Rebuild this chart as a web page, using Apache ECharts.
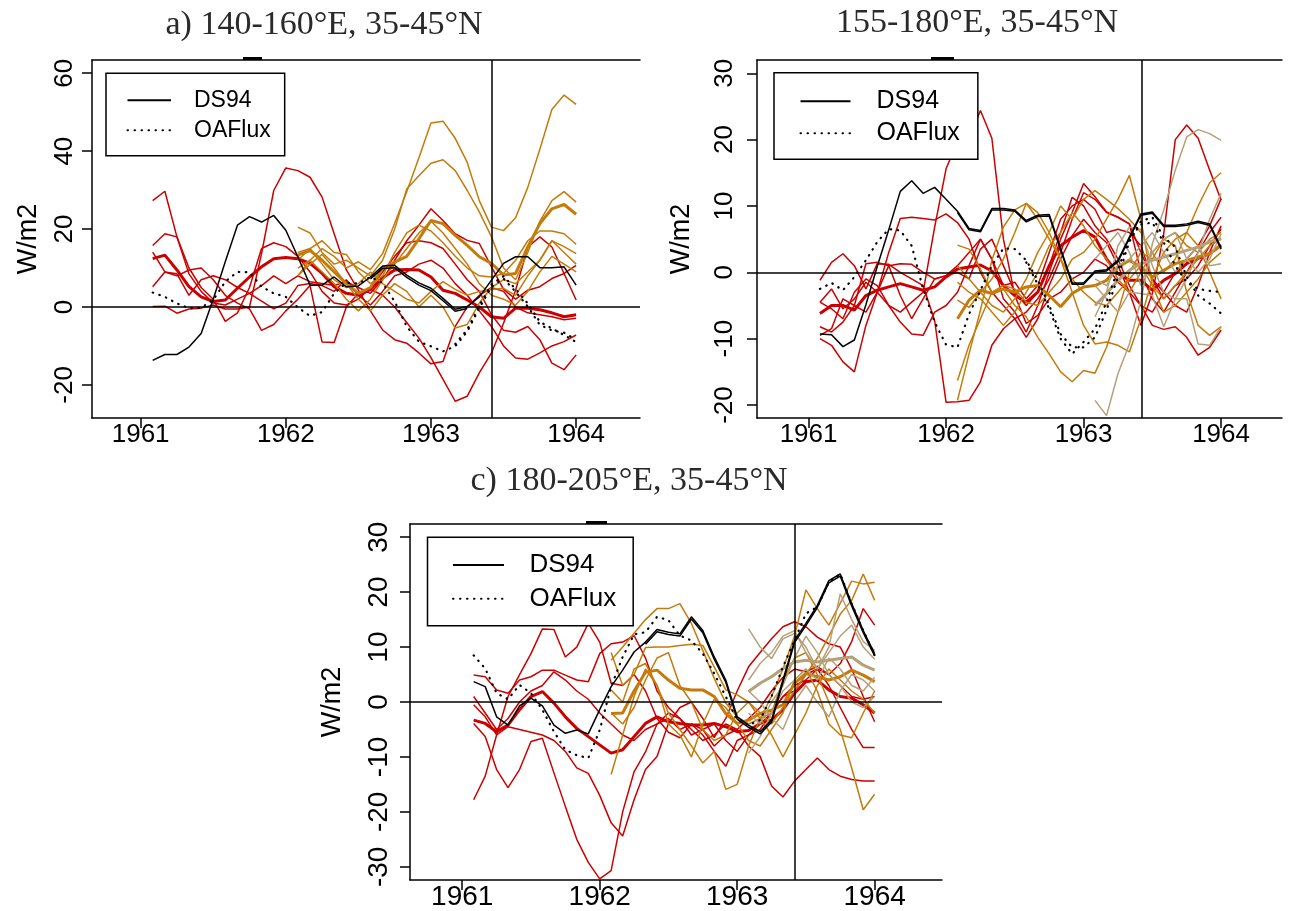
<!DOCTYPE html>
<html><head><meta charset="utf-8">
<script src="https://cdn.jsdelivr.net/npm/echarts@6/dist/echarts.min.js"></script>
<style>html,body{margin:0;padding:0;background:#fff}#c{width:1289px;height:911px}</style>
</head><body><div id="c"></div>
<script>
// monthly time points (decimal years)
const months = [1961.083,1961.167,1961.25,1961.333,1961.417,1961.5,1961.583,1961.667,1961.75,1961.833,1961.917,1962.0,
1962.083,1962.167,1962.25,1962.333,1962.417,1962.5,1962.583,1962.667,1962.75,1962.833,1962.917,1963.0,
1963.083,1963.167,1963.25,1963.333,1963.417,1963.5,1963.583,1963.667,1963.75,1963.833,1963.917,1964.0];
const xTicks = [1961,1962,1963,1964];
const aTicks = [-20,0,20,40,60];
const bTicks = [-20,-10,0,10,20,30];
const cTicks = [-30,-20,-10,0,10,20,30];
const titles = ['a) 140-160°E, 35-45°N','155-180°E, 35-45°N','c) 180-205°E, 35-45°N'];
const legendNames = ['DS94','OAFlux'];
const splitMonth = 1963.417;

// ---------- panel a ----------
const aDS94 = [-13.7,-12.2,-12.2,-10.3,-6.8,2.0,11.6,21.0,23.2,21.8,23.5,19.7,12.9,5.6,5.6,7.7,5.2,5.4,7.7,10.5,10.7,8.2,6.2,4.8,2.2,-0.6,0.1,2.6,6.9,11.2,12.9,12.9,10.1,10.1,10.3,5.6];
const aDS94b = [7.2,9.9,10.1,7.6,5.6,4.2,1.6,-1.1,-0.4];
const aOAF = [3.7,2.6,0.9,-0.3,-0.2,1.8,6.5,9.0,8.9,5.2,3.5,2.6,-0.1,-2.3,-1.3,3.5,6.2,6.0,7.7,6.2,1.4,-5.0,-8.9,-10.1,-11.4,-10.1,-6.3,-0.3,5.2,7.3,3.9,0.1,-4.6,-6.0,-6.6,-8.4];
const aOAF2 = [-9.5,-5.8,0.4,5.8,7.9,4.6,0.9,-3.8,-5.5,-7.2,-9.0];
const aRedThick = [12.4,13.3,9.5,5.2,2.6,1.4,1.8,4.8,7.7,10.3,12.4,12.7,12.4,11.2,8.6,5.2,3.5,3.0,4.5,7.5,9.5,9.6,9.5,7.7,4.3,3.5,1.8,0.0,-2.5,-2.9,-0.3,-0.3,-0.7,-1.5,-2.5,-2.0];
const aRed1 = [27.3,29.7,18.0,8.5,4.0,1.0,0.5,2.0,3.5,5.5,8.0,6.0,8.0,6.5,6.0,5.5,6.5,5.0,3.5,7.0,12.0,17.0,21.0,25.2,22.2,18.8,17.1,16.3,10.3,4.5,2.0,4.3,5.2,7.3,8.6,10.7];
const aRed2 = [15.8,18.8,18.0,10.0,5.0,2.0,-3.7,-1.5,5.0,15.0,16.5,15.5,13.0,9.0,4.0,1.0,0.5,2.0,5.0,9.0,13.0,16.5,17.0,16.5,15.0,11.0,7.0,4.0,-2.0,-6.0,-6.5,-5.0,-8.4,-14.4,-16.1,-12.3];
const aRed3 = [14.1,9.0,8.5,3.0,7.0,8.0,7.0,5.0,3.5,1.5,-0.5,1.0,5.5,6.0,5.5,4.0,7.0,3.0,0.5,4.0,8.0,9.0,11.0,12.0,10.0,6.0,3.0,-1.0,-5.0,-10.0,-13.1,-13.4,-11.8,-10.0,-8.9,-7.2];
const aRed4 = [5.2,9.0,8.0,9.5,10.0,7.0,3.0,1.0,-0.5,-6.0,-4.5,-1.0,2.0,5.5,-9.0,-9.1,0.0,3.5,4.5,3.0,0.0,-4.0,-8.0,-13.0,-18.6,-24.2,-22.9,-16.9,-11.8,-4.2,4.3,15.4,18.0,15.4,8.6,1.8];
const aRed5 = [0.1,0.2,-1.6,-0.5,-0.3,0.5,-0.5,-0.5,0.0,13.7,29.9,35.7,35.0,33.3,28.2,18.8,9.5,4.3,-1.0,-5.9,-8.4,-9.3,-11.8,-14.6,-14.0,-5.0,0.0,3.0,5.0,4.0,0.0,-1.5,-2.0,-2.5,-3.3,-2.9];
const aOrgThick = [13.3,14.5,12.0,9.0,6.0,3.5,5.0,9.9,11.5,13.0,17.5,22.2,21.4,18.4,15.8,12.9,11.2,8.2,8.6,15.4,21.4,25.2,26.3,23.8];
const aOrg1 = [8.0,12.0,15.0,13.0,10.0,11.6,9.6,13.7,21.5,29.6,38.3,47.2,47.7,43.3,37.1,27.3,20.5,19.6,22.9,30.7,40.5,50.7,54.4,52.0];
const aOrg2 = [20.5,19.0,14.0,11.0,12.0,10.0,8.0,12.0,20.0,30.3,33.7,36.9,37.8,35.0,29.9,24.4,18.0,10.0,7.0,14.0,22.0,27.3,29.6,26.9];
const aOrg3 = [8.0,11.0,13.5,10.0,6.0,2.0,-1.0,3.0,6.0,4.0,0.0,3.0,0.0,-5.4,-4.5,1.0,5.0,7.0,6.0,9.0,12.0,17.0,14.0,11.0];
const aOrg4 = [14.0,15.0,11.0,7.0,5.0,6.0,9.0,6.0,4.0,2.0,1.0,4.0,6.5,4.5,3.0,4.0,4.5,4.8,3.0,8.0,12.0,17.0,15.5,13.7];
const aOrg5 = [12.0,15.0,17.0,14.0,13.5,9.0,6.0,8.0,14.0,19.0,21.0,19.5,16.5,13.0,10.0,8.0,7.7,8.6,12.0,17.0,19.5,19.5,18.8,16.1];
const aOrg6 = [10.0,12.0,9.0,6.0,2.0,-1.0,2.0,7.0,11.0,15.0,19.0,22.0,19.0,15.0,11.0,6.0,3.0,2.0,0.5,4.0,9.0,13.0,11.0,9.0];

// ---------- panel b ----------
const bDS94 = [-9.3,-9.4,-11.2,-10.2,-4.9,0.9,6.4,12.2,13.8,11.9,12.8,11.0,9.2,6.6,6.3,9.6,9.6,9.4,7.8,8.6,8.7,3.6,-1.6,-1.6,0.2,0.4,1.8,5.3,8.8,9.1,7.1,7.1,7.3,7.7,7.3,3.7];
const bDS94b = [9.0,6.4,6.1,9.4,9.4,9.2,7.6,8.4,8.5,3.4,-1.8,-1.8,0.0,0.2,1.6,5.1,8.6,8.9,6.9,6.9,7.1,7.5,7.1,3.5];
const bOAF = [-2.5,-1.6,-2.7,-0.7,1.8,4.6,6.5,6.3,4.0,-2.5,-7.5,-10.9,-11.3,-6.3,-2.7,1.0,3.6,3.5,1.8,-1.2,-5.0,-9.3,-11.3,-11.3,-9.8,-5.7,-0.7,4.6,7.7,8.3,5.3,3.8,-0.7,-3.5,-4.7,-6.2];
const bOAF2 = [1.5,-1.8,-5.5,-10.0,-12.3,-10.5,-8.5,-4.5,0.5,5.0,7.2,7.5,4.5,1.0,-1.5,-2.5,-2.8,-3.0];
const bRedThick = [-6.2,-5.0,-5.0,-5.7,-3.5,-2.7,-2.2,-1.7,-2.2,-2.7,-2.2,-0.7,0.5,0.8,1.1,0.2,-2.0,-3.5,-4.5,-3.0,1.0,4.0,5.3,6.3,5.3,2.0,-0.2,-1.2,-1.2,-2.7,-1.2,-0.2,1.3,2.1,2.8,4.1];
const bRed1 = [-4.5,-2.5,-5.5,-4.0,-1.5,-3.0,-5.0,-6.0,-4.5,-3.0,6.8,15.6,19.7,20.2,24.4,20.2,5.0,-3.5,-7.7,-6.5,-4.0,-3.0,-1.0,0.0,2.0,1.0,-1.5,-3.0,-8.0,-3.2,5.8,20.0,22.2,20.2,15.4,10.9];
const bRed2 = [-1.2,1.5,2.8,1.0,-2.5,1.3,1.2,0.0,-1.0,-2.0,-7.3,-19.6,-19.5,-19.3,-16.5,-11.0,-8.5,-7.0,-6.0,-4.0,-1.0,3.0,8.0,12.0,11.0,9.0,8.3,7.3,3.0,-1.0,-3.0,-5.0,-6.0,-2.0,3.0,7.0];
const bRed3 = [-9.5,-8.5,-4.0,-5.0,-6.0,-3.0,3.0,8.1,8.3,8.1,7.9,8.8,7.5,5.0,0.0,-3.0,-5.0,-7.0,-9.8,-7.0,-2.0,2.0,5.5,8.0,6.0,4.5,1.0,-3.0,-5.0,-8.0,-8.6,-8.2,-9.8,-12.5,-11.3,-8.7];
const bRed4 = [-10.0,-11.0,-13.5,-15.0,-8.0,-3.0,1.0,1.3,1.2,0.0,-1.0,-0.5,0.0,-1.0,3.5,5.0,1.0,-3.0,-5.0,-3.0,1.0,6.0,11.3,10.0,7.0,5.0,2.0,-2.0,-5.0,-6.0,-3.0,0.0,2.0,4.0,7.0,11.1];
const bRed5 = [-4.5,-5.5,-7.0,-3.0,-1.0,-2.0,-5.0,-7.5,-9.3,-9.5,-6.0,-5.0,-3.0,1.0,5.0,2.0,-4.0,-6.0,-9.0,-5.0,0.0,5.0,9.0,13.4,11.4,9.1,8.3,7.3,0.0,-4.0,-6.0,-3.0,0.0,3.0,6.0,8.3];
const bRed6 = [-8.2,-9.0,-7.5,-5.0,1.3,1.5,1.0,-3.5,-7.0,-4.0,-1.0,-0.5,1.0,3.0,5.0,2.0,-2.0,-1.5,-4.0,-2.0,3.0,8.0,10.0,11.0,9.5,6.0,6.5,6.0,4.0,-1.0,-4.0,-2.0,-1.0,1.0,4.0,6.5];
const bOrgThick = [-7.0,-4.2,-2.7,-3.2,-2.5,-3.0,-2.2,-2.0,-3.5,-5.2,-3.2,-2.2,-2.0,-1.2,0.8,1.8,0.8,-0.7,0.3,1.3,1.8,2.3,2.8,4.1];
const bOrg1 = [-19.3,-12.3,-5.7,1.8,6.8,9.4,10.4,8.0,5.0,2.0,-1.0,-3.0,-4.5,-5.0,-3.0,-1.0,1.0,-2.0,-6.0,-5.0,-3.0,-1.0,1.5,3.0];
const bOrg2 = [-16.3,-11.0,-7.0,-3.0,-2.0,-2.5,-4.5,-5.0,-3.0,-1.0,2.0,3.0,5.0,8.0,11.0,14.6,8.0,-2.0,-4.0,-2.0,0.0,2.0,4.0,5.0];
const bOrg3 = [4.1,3.5,0.5,-3.0,-2.5,-5.0,-6.7,-9.8,-12.3,-15.0,-16.5,-14.8,-15.2,-11.3,-6.0,0.0,3.0,2.0,5.0,6.0,4.0,3.0,5.0,6.0];
const bOrg4 = [-4.2,-5.3,-3.0,-1.0,2.0,6.0,10.4,9.0,6.0,2.0,-3.0,-8.0,-10.8,-10.5,-11.0,-12.0,-7.0,-1.0,3.0,5.0,6.0,4.0,0.0,-4.0];
const bOrg5 = [1.0,-1.0,-3.0,-5.0,-6.0,-4.0,-1.0,3.0,6.0,10.0,8.0,11.0,12.3,11.0,9.6,8.0,6.0,3.0,0.0,2.0,6.0,10.0,13.5,15.0];
const bOrg6 = [-1.5,-3.0,-4.0,-6.0,-8.0,-6.0,-3.0,0.0,4.0,6.0,9.0,7.0,4.0,2.0,-1.0,-3.0,0.0,3.0,5.0,4.0,-3.0,-8.0,-9.5,-8.2];
const bTanThick = [-5.0,-3.2,-1.2,0.3,1.3,1.8,2.3,2.8,3.3,3.8,4.6,5.1];
const bTan1 = [-19.3,-21.6,-15.3,-10.8,-4.2,4.3,9.4,15.4,20.4,21.5,20.9,19.9];
const bTan2 = [-6.7,-3.0,4.0,6.8,6.5,1.0,-3.0,-4.0,-1.0,3.0,8.0,11.9];
const bTan3 = [-2.0,-4.0,-6.0,-3.0,-3.2,-3.5,-8.2,-4.0,-4.0,-10.8,-11.0,-8.2];
const bTan4 = [2.0,4.0,6.0,3.0,-2.0,3.0,5.0,6.0,2.0,0.0,2.0,5.8];
const bTan5 = [-1.0,-2.0,1.0,2.0,4.0,6.0,3.0,0.0,2.0,4.0,1.0,1.3];

// ---------- panel c ----------
const cDS94 = [3.7,2.8,-2.7,-4.2,-0.7,0.7,-0.7,-4.2,-5.7,-5.1,-5.8,-1.4,2.8,5.8,9.1,10.9,13.2,12.7,12.4,15.5,13.0,8.2,4.0,-2.7,-4.2,-5.4,-3.3,4.0,11.2,14.3,17.6,22.1,23.3,17.9,13.0,8.8];
const cDS94b = [10.5,12.8,12.3,12.0,15.1,12.6,7.8,3.6,-3.1,-4.6,-5.8,-3.7,3.6,10.8,13.9,17.2,21.7,22.9,17.5,12.6,8.4];
const cOAF = [8.5,6.1,1.6,0.5,3.1,1.6,-1.4,-5.4,-8.7,-9.7,-10.2,-5.1,2.8,8.2,12.3,12.7,15.5,14.9,12.1,11.2,8.8,5.2,1.0,-3.3,-4.2,-3.3,1.0,6.4,11.2,16.1,17.3,21.8,23.3,17.9,13.0,8.5];
const cRedThick = [-3.3,-3.9,-5.4,-4.2,-1.4,1.0,1.9,-0.2,-2.7,-4.8,-6.3,-7.8,-9.3,-8.7,-6.3,-3.9,-2.7,-3.6,-3.9,-4.2,-4.2,-3.9,-4.5,-5.4,-5.2,-3.9,-3.3,-1.4,1.6,3.7,4.0,2.2,1.0,0.7,-0.5,-2.0];
const cRedA = [4.9,4.6,2.2,1.6,4.0,4.6,5.8,5.8,4.9,4.0,3.7,8.8,10.6,10.9,12.1,8.0,2.0,-1.0,-3.0,-6.0,-5.0,-4.0,-7.0,-9.0,-6.0,-5.0,-2.0,1.0,2.0,5.0,6.0,3.0,-1.0,-5.0,-8.3,-8.3];
const cRedB = [-17.8,-13.5,-6.0,1.0,5.0,8.8,13.3,13.2,8.2,10.0,14.3,10.9,3.4,3.0,5.0,2.0,-3.0,-5.5,-6.5,-4.0,-5.0,-8.0,-6.0,-5.0,-3.0,-1.0,2.0,4.5,6.0,5.5,6.5,5.0,7.0,11.0,17.0,14.0];
const cRedC1 = [-3.9,-6.3,-12.3,-15.6,-12.3,-7.2,-6.6,-12.9,-19.0,-25.0,-29.2,-32.2,-30.7,-20.0,-12.7,-9.1,-4.0,-2.0,-3.0,-5.0,-7.0,-6.0,-4.0,-5.0,-8.0,-9.9,-15.3,-17.3,-14.4,-12.3,-10.2,-12.3,-13.5,-14.1,-14.4,-14.4];
const cRedC2 = [-0.5,-2.7,-6.0,-4.5,-5.0,-5.5,-6.0,-7.0,-9.0,-12.0,-13.0,-17.0,-22.0,-24.4,-17.8,-12.3,-9.9,-3.9,-1.0,0.0,-3.0,-6.5,-3.0,2.0,6.4,9.0,11.5,13.7,14.6,13.7,11.8,10.6,10.0,6.0,1.0,-3.6];
const cRedD = [1.0,-2.0,-5.0,-3.0,0.0,2.0,3.0,5.5,4.0,2.0,0.5,-2.0,-4.0,-6.0,-7.0,-5.0,-4.0,-3.0,-5.0,-4.0,-6.0,-9.0,-11.7,-7.0,-6.0,-4.0,-2.0,1.0,3.0,4.0,6.0,5.0,3.0,1.0,0.5,1.0];
const cOrgThick = [-2.1,-2.0,2.0,5.4,5.8,4.0,2.5,2.2,2.2,1.0,-2.1,-3.9,-3.3,-2.1,-1.5,-0.5,3.4,5.2,4.6,4.0,4.6,5.8,4.9,3.7];
const cOrg1 = [7.6,10.0,12.5,15.0,17.0,17.0,17.9,14.3,9.4,4.3,-0.2,-2.7,-4.0,-3.0,1.0,6.0,12.0,20.4,17.0,14.0,18.0,22.0,21.5,21.8];
const cOrg2 = [9.0,3.0,5.0,9.9,10.0,10.0,10.3,10.5,10.3,6.4,2.2,1.3,0.0,-2.0,-4.0,-1.0,2.0,5.0,8.0,12.0,16.0,18.5,23.3,18.5];
const cOrg3 = [-13.2,-6.0,1.0,6.0,3.0,-2.0,-5.0,-8.0,-11.1,-9.0,-15.9,-15.0,-8.0,-3.0,-2.0,4.0,8.0,9.0,5.0,0.0,-5.0,-12.0,-19.6,-16.8];
const cOrg4 = [2.2,0.0,6.0,7.0,3.0,-4.0,-6.0,-10.0,-4.0,0.5,-1.0,-4.0,-7.0,-8.0,-5.0,-2.0,4.0,6.0,2.0,-4.0,-6.0,-6.5,-2.0,2.0];
const cOrg5 = [-2.0,-4.0,-1.0,4.0,8.0,9.0,3.0,0.0,-5.0,-7.0,-6.0,-2.0,0.0,-3.0,-6.0,-10.0,-6.0,-2.0,3.0,6.0,4.0,2.0,0.5,-2.0];
const cTanThick = [1.9,3.4,4.6,6.1,7.3,7.6,7.3,7.6,7.9,8.2,6.7,5.8];
const cTan1 = [13.3,10.0,7.9,11.5,12.5,10.0,6.0,9.0,12.0,14.0,10.0,7.8];
const cTan2 = [4.0,7.0,9.0,12.0,13.0,9.0,6.0,10.0,19.7,15.0,11.0,9.4];
const cTan3 = [-9.3,-6.3,-2.0,2.0,4.0,6.0,4.0,8.0,6.0,3.0,2.0,4.5];
const cTan4 = [2.0,0.0,-3.0,-5.0,0.0,3.0,0.0,-2.7,2.0,5.0,4.0,2.0];
const cTan5 = [-2.0,-4.0,0.0,3.0,8.0,12.0,9.0,5.0,3.0,0.0,-1.0,1.0];

// ---------- styling / layout ----------
const RED = '#CC0000', ORG = '#C47B0B', TAN = '#B5A07A';
const SANS = 'Liberation Sans', SERIF = 'Liberation Serif';

const panels = [
  { grid:{left:92, top:60, width:548, height:358}, xr:[1960.665,1964.44], yr:[-28.5,63.4], yt:aTicks,
    fs:26, ylm:14, xlm:4, ng:50, title:{x:324, y:8}, legend:{left:106, top:73.3, pad:[15.4,14,14,20.5], iw:43.5, tp:18, fs:23, gap:7},
    mark:{x:243, y:57, w:19},
    ds:[[aDS94,0],[aDS94b,18]], oaf:[[aOAF,0],[aOAF2,25]], redT:aRedThick, reds:[aRed1,aRed2,aRed3,aRed4,aRed5],
    orgT:aOrgThick, orgs:[aOrg1,aOrg2,aOrg3,aOrg4,aOrg5,aOrg6], tanT:null, tans:[] },
  { grid:{left:757, top:60, width:525, height:358}, xr:[1960.625,1964.443], yr:[-21.96,32.0], yt:bTicks,
    fs:26, ylm:19, xlm:4, ng:62, title:{x:977, y:6.5}, legend:{left:774, top:72.7, pad:[16,18,13.6,25.5], iw:50, tp:21, fs:25, gap:7},
    mark:{x:931, y:57, w:23},
    ds:[[bDS94,0],[bDS94b,12]], oaf:[[bOAF,0],[bOAF2,18]], redT:bRedThick, reds:[bRed1,bRed2,bRed3,bRed4,bRed5,bRed6],
    orgT:bOrgThick, orgs:[bOrg1,bOrg2,bOrg3,bOrg4,bOrg5,bOrg6], tanT:bTanThick, tans:[bTan1,bTan2,bTan3,bTan4,bTan5] },
  { grid:{left:410, top:524, width:532, height:358}, xr:[1960.62,1964.49], yr:[-32.4,32.4], yt:cTicks,
    fs:28, ylm:17, xlm:3, ng:64, title:{x:629, y:464}, legend:{left:427.5, top:537.3, pad:[14.7,17,14,24.5], iw:51, tp:20.5, fs:26, gap:7.7},
    mark:{x:586, y:521, w:21},
    ds:[[cDS94,0],[cDS94b,15]], oaf:[[cOAF,0]], redT:cRedThick, reds:[cRedA,cRedB,cRedC1,cRedC2,cRedD],
    orgT:cOrgThick, orgs:[cOrg1,cOrg2,cOrg3,cOrg4,cOrg5], tanT:cTanThick, tans:[cTan1,cTan2,cTan3,cTan4,cTan5] }
];

function pts(vals, start){ return vals.map((v,i)=>[months[start+i], v]); }

const grids=[], xAxes=[], yAxes=[], series=[], titleArr=[], legends=[], graphics=[];
const axLine = {show:true, onZero:false, lineStyle:{color:'#000', width:1.5}};

panels.forEach((p,i)=>{
  grids.push(Object.assign({containLabel:false}, p.grid));
  xAxes.push({gridIndex:i, type:'value', position:'bottom', min:p.xr[0], max:p.xr[1],
    axisLine:axLine, splitLine:{show:false},
    axisTick:{show:true, length:10, lineStyle:{color:'#000', width:1.5}, customValues:xTicks},
    axisLabel:{customValues:xTicks, fontSize:p.fs, fontFamily:SANS, color:'#000', margin:p.xlm, formatter:v=>String(Math.round(v))}});
  xAxes.push({gridIndex:i, type:'value', position:'top', min:p.xr[0], max:p.xr[1],
    axisLine:axLine, splitLine:{show:false}, axisTick:{show:false}, axisLabel:{show:false}});
  yAxes.push({gridIndex:i, type:'value', min:p.yr[0], max:p.yr[1],
    name:'W/m2', nameLocation:'middle', nameGap:p.ng, nameTextStyle:{fontSize:27, fontFamily:SANS, color:'#000'},
    axisLine:axLine, splitLine:{show:false},
    axisTick:{show:true, length:10, lineStyle:{color:'#000', width:1.5}, customValues:p.yt},
    axisLabel:{customValues:p.yt, rotate:90, fontSize:p.fs, fontFamily:SANS, color:'#000', margin:p.ylm}});
  titleArr.push({text:titles[i], left:p.title.x, top:p.title.y, textAlign:'center', padding:0,
    textStyle:{fontFamily:SERIF, fontSize:34, fontWeight:'normal', color:'#2a2a2a'}});
  const L = p.legend;
  legends.push({left:L.left, top:L.top, orient:'vertical', data:legendNames, selectedMode:false,
    itemWidth:L.iw, itemHeight:14, itemGap:L.gap, padding:L.pad, borderColor:'#000', borderWidth:1.5, borderRadius:0,
    backgroundColor:'#fff',
    itemStyle:{opacity:0, color:'transparent', borderColor:'transparent', borderWidth:0},
    textStyle:{fontSize:L.fs, fontFamily:SANS, color:'#000', lineHeight:14, padding:[0,0,0,L.tp]}});
  graphics.push({type:'rect', shape:{x:p.mark.x, y:p.mark.y, width:p.mark.w, height:3}, style:{fill:'#000'}});

  const xi=i*2, yi=i;
  const add=(name,data,color,width,type,extra)=>{
    const s={name, type:'line', xAxisIndex:xi, yAxisIndex:yi, data, symbol:'none', showSymbol:false,
      silent:true, animation:false, lineStyle:{color, width, type:type||'solid'}, itemStyle:{color}};
    series.push(Object.assign(s, extra||{}));
  };
  p.reds.forEach((r,j)=>add('red'+i+'_'+j, pts(r,0), RED, 1.5));
  add('redT'+i, pts(p.redT,0), RED, 3);
  p.orgs.forEach((r,j)=>add('org'+i+'_'+j, pts(r,12), ORG, 1.5));
  add('orgT'+i, pts(p.orgT,12), ORG, 3);
  p.tans.forEach((r,j)=>add('tan'+i+'_'+j, pts(r,24), TAN, 1.5));
  if (p.tanT) add('tanT'+i, pts(p.tanT,24), TAN, 3);
  p.oaf.forEach(([a,s],j)=>{
    add(j? 'OAFlux_'+i+'_'+j : 'OAFlux', pts(a,s), '#000', 2.2, [0.5,6.5]);
    series[series.length-1].lineStyle.cap = 'round';
  });
  p.ds.forEach(([a,s],j)=>add(j? 'DS94_'+i+'_'+j : 'DS94', pts(a,s), '#000', 1.5, 'solid',
    j? null : {markLine:{silent:true, symbol:['none','none'], label:{show:false}, animation:false,
      lineStyle:{color:'#000', width:1.5, type:'solid'}, data:[{yAxis:0},{xAxis:splitMonth}]}}));
});

const chart = echarts.init(document.getElementById('c'), null, {renderer:'canvas'});
chart.setOption({
  backgroundColor:'#fff', animation:false,
  title:titleArr, legend:legends, grid:grids, xAxis:xAxes, yAxis:yAxes, series, graphic:graphics
});
</script></body></html>
